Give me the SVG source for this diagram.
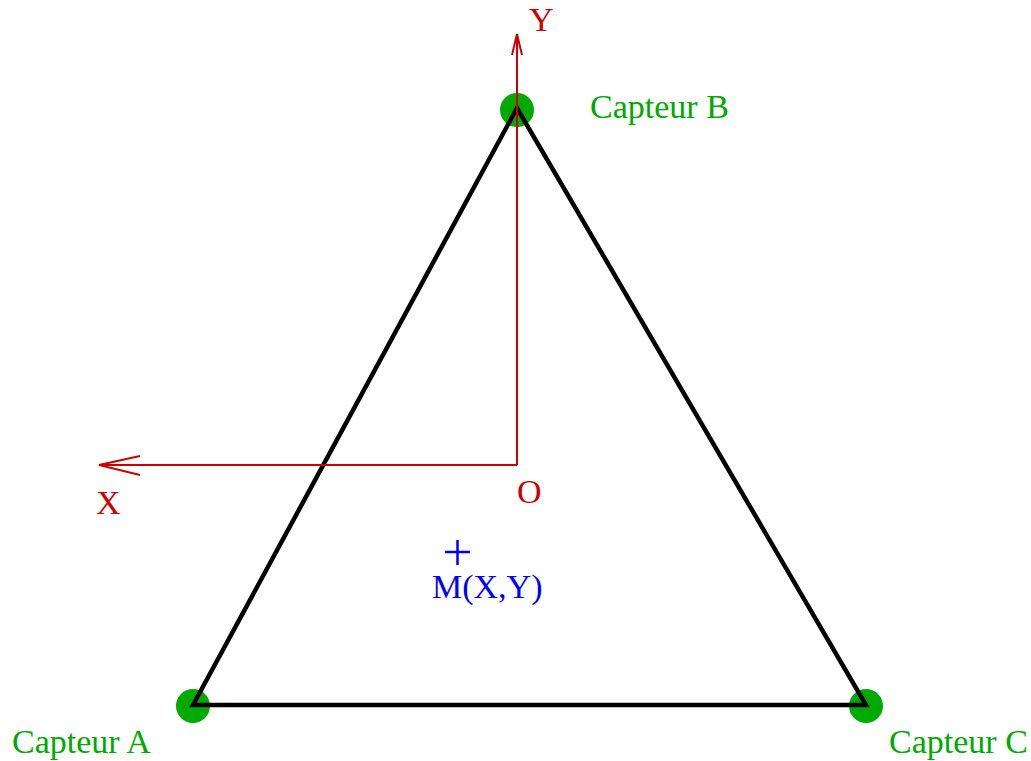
<svg xmlns="http://www.w3.org/2000/svg" width="1031" height="761" viewBox="0 0 1031 761">
<style>
text{font-family:"Liberation Serif","Times New Roman",serif;font-size:34px}
.g{fill:#00aa00}
.r{fill:#cc0000}
.b{fill:#0000ff}
.ax{stroke:#cc0000;stroke-width:2;fill:none}
</style>
<rect width="1031" height="761" fill="#fff"/>
<g id="sensorA"><circle cx="193" cy="706" r="17" class="g"/><text x="12" y="753" class="g">Capteur A</text></g>
<g id="sensorB"><circle cx="517" cy="110" r="17" class="g"/><text x="590" y="118" class="g">Capteur B</text></g>
<g id="sensorC"><circle cx="866" cy="706" r="17" class="g"/><text x="889" y="753" class="g">Capteur C</text></g>
<g id="connectors">
<polygon points="193,705 517,108 866,705" fill="none" stroke="#000" stroke-width="4.5" stroke-linejoin="miter"/>
<path class="ax" d="M517,465 V34 M512,55 L517,34 L522,55"/>
<path class="ax" d="M517,465 H99 M140,456 L99,465 L140,475"/>
</g>
<g id="axisLabels">
<text x="529" y="31" class="r">Y</text>
<text x="96" y="514" class="r">X</text>
<text x="517" y="503" class="r">O</text>
</g>
<g id="pointM">
<path d="M445,552 H470 M457.5,540 V565" stroke="#0000ff" stroke-width="2.5"/>
<text x="432" y="598" class="b">M(X,Y)</text>
</g>
</svg>
